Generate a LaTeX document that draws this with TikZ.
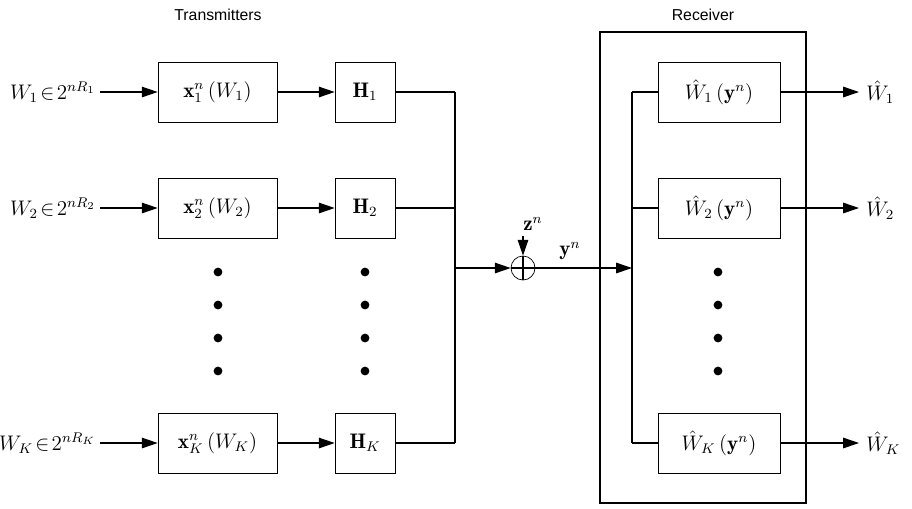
\documentclass[tikz,border=0pt]{standalone}
\usepackage{fontspec}
\usepackage{amsmath}
\newfontfamily\sans{Liberation Sans}
\usetikzlibrary{arrows.meta}
\begin{document}
\begin{tikzpicture}[x=0.02cm,y=-0.02cm,
  box/.style={draw,minimum width=2.38cm,minimum height=1.2cm,inner sep=0pt,font=\large},
  hbox/.style={draw,minimum width=1.2cm,minimum height=1.2cm,inner sep=0pt,font=\large},
  rbox/.style={draw,minimum width=2.44cm,minimum height=1.2cm,inner sep=0pt,font=\large},
  arr/.style={-{Triangle[length=9pt,width=6pt]},line width=0.6pt},
  ln/.style={line width=0.6pt},
  dot/.style={circle,fill,inner sep=0pt,minimum size=5pt}]
\useasboundingbox (0,0) rectangle (912,508);
\node[font=\sans\small] (tl) at (218,15) {Transmitters};
\node[font=\sans\small] (rl) at (703,15) {Receiver};
\foreach \i/\y/\s in {1/92/1,2/208/2,K/443/K}{
  \node[anchor=east,font=\large,inner sep=0pt] (in\i) at (96,\y) {$W_{\s}\!\in\! 2^{nR_{\s}}$};
  \node[box] (x\i) at (217.5,\y) {$\mathbf{x}_{\s}^{n}\left(W_{\s}\right)$};
  \node[hbox] (h\i) at (365,\y) {$\mathbf{H}_{\s}$};
  \node[rbox] (r\i) at (719,\y) {$\hat W_{\s}\left(\mathbf{y}^{n}\right)$};
  \node[anchor=west,font=\large,inner sep=0pt] (o\i) at (866,\y) {$\hat W_{\s}$};
  \coordinate (j\i) at (455,\y);
  \coordinate (k\i) at (632,\y);
  \draw[arr] (100,\y) -- (x\i.west);
  \draw[arr] (x\i) -- (h\i);
  \draw[ln] (h\i.east) -- (j\i);
  \draw[ln] (k\i) -- (r\i.west);
  \draw[arr] (r\i.east) -- ([xshift=-4pt]o\i.west);
}
\draw[ln] (j1) -- (jK);
\draw[ln] (k1) -- (kK);
\node[draw,circle,minimum size=0.48cm,inner sep=0pt] (sum) at (523,268) {};
\draw[ln] (sum.north) -- (sum.south) (sum.west) -- (sum.east);
\coordinate (jm) at (455,268);
\coordinate (km) at (632,268);
\draw[arr] (jm) -- (sum.west);
\draw[arr] (sum.east) -- (km);
\node[font=\large] (z) at (533,224) {$\mathbf{z}^{n}$};
\coordinate (zt) at (523,236);
\draw[arr] (zt) -- (sum.north);
\node[font=\large] (y) at (570,251) {$\mathbf{y}^{n}$};
\draw[line width=0.8pt] (600,32) rectangle (806,503);
\foreach \x in {218,365,718}{\foreach \yy in {272,305,338,371}{\node[dot] at (\x,\yy) {};}}
\end{tikzpicture}
\end{document}
